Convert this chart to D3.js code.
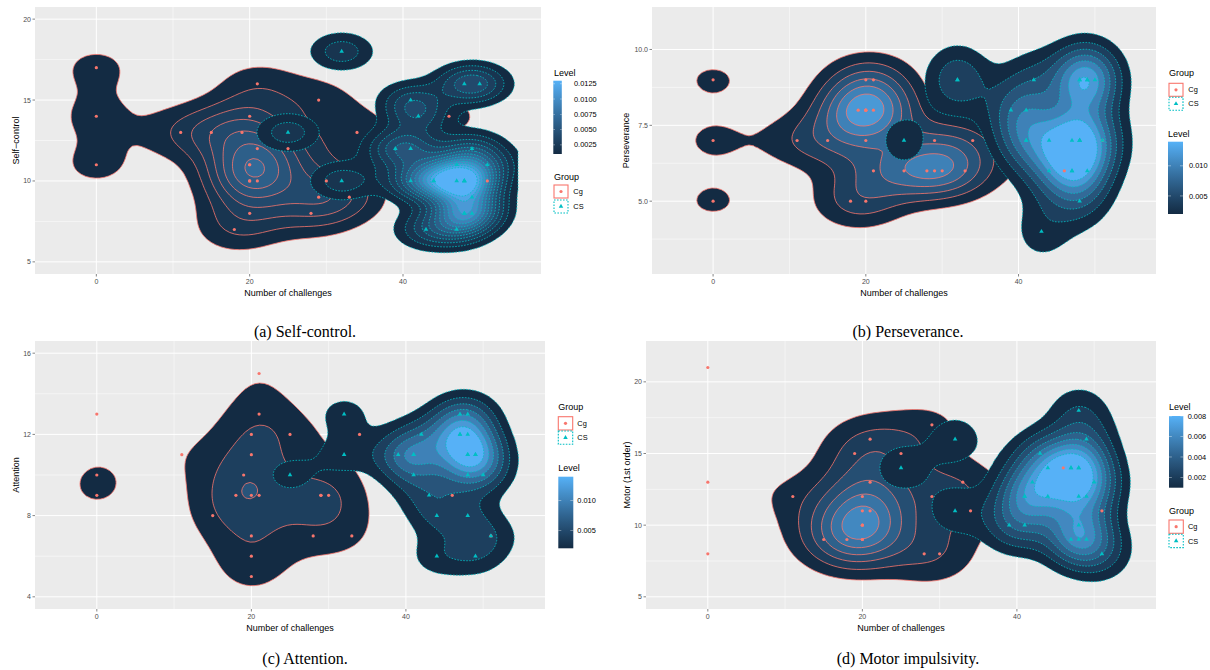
<!DOCTYPE html>
<html><head><meta charset="utf-8">
<script src="https://cdn.jsdelivr.net/npm/d3@7"></script>
<style>body{margin:0;background:#fff}svg{display:block}</style>
</head><body><svg id="c" width="1210" height="670"></svg>
<script>
// ---------------- data (overlapping participants repeated) ----------------
const groupNames = ["Cg", "CS"];
const xTicks = [0, 20, 40];
const xMinor = [10, 30, 50];
const xLims = [-5, 55];

// (a) Self-control
const selfControlCg = [[0,17],[0,14],[0,11],[11,13],[15,13],[19,13],[20,14],[21,16],[21,12],[20,11],[20,11],[20,10],[20,10],[21,10],[20,8],[18,7],[25,12],[29,15],[34,13],[30,10],[29,9],[33,9],[28,8],[46,14],[51,10]];
const selfControlCs = [[25,13],[32,18],[32,10],[41,15],[42,14],[48,16],[50,16],[39,12],[41,12],[49,12],[47,11],[51,11],[41,10],[44,10],[44,10],[47,10],[48,10],[48,10],[48,10],[49,9],[48,8],[48,8],[49,8],[43,7],[47,7]];
const selfControlYTicks = [5, 10, 15, 20];
const selfControlYMinor = [7.5, 12.5, 17.5];
const selfControlLevels = [0.001,0.002,0.003,0.004,0.005,0.006,0.007,0.008,0.009,0.010,0.011,0.012,0.013];
const selfControlLegendTicks = [0.0025, 0.0050, 0.0075, 0.0100, 0.0125];

// (b) Perseverance
const perseveranceCg = [[0,9],[0,7],[0,5],[11,7],[15,7],[20,7],[20,9],[21,9],[19,8],[20,8],[20,8],[20,8],[21,8],[21,6],[18,5],[20,5],[25,6],[28,6],[29,6],[30,6],[33,6],[29,7],[34,7],[46,6],[51,7]];
const perseveranceCs = [[25,7],[32,9],[32,9],[42,9],[48,9],[48,9],[49,9],[49,9],[50,9],[39,8],[41,8],[41,7],[41,7],[44,7],[47,7],[48,7],[48,7],[51,7],[44,6],[47,6],[47,6],[49,6],[48,5],[48,7],[43,4]];
const perseveranceYTicks = [5, 7.5, 10];
const perseveranceYMinor = [3.75, 6.25, 8.75];
const perseveranceLevels = [0.002,0.004,0.006,0.008,0.010,0.012,0.014];
const perseveranceLegendTicks = [0.005, 0.010];

// (c) Attention
const attentionCg = [[0,13],[0,10],[0,9],[11,11],[21,15],[21,13],[20,12],[25,12],[20,11],[19,10],[18,9],[20,9],[21,9],[15,8],[20,7],[20,6],[20,5],[34,12],[29,9],[29,9],[30,9],[28,7],[33,7],[46,9],[51,7]];
const attentionCs = [[32,13],[32,11],[25,10],[42,12],[47,13],[48,13],[47,12],[47,12],[48,12],[39,11],[41,11],[41,11],[48,11],[48,11],[49,11],[49,11],[41,10],[48,10],[50,10],[43,9],[44,8],[48,8],[51,7],[44,6],[49,6]];
const attentionYTicks = [4, 8, 12, 16];
const attentionYMinor = [6, 10, 14];
const attentionLevels = [0.002,0.004,0.006,0.008,0.010,0.012,0.014];
const attentionLegendTicks = [0.005, 0.010];

// (d) Motor impulsivity
const motorCg = [[0,21],[0,13],[0,8],[11,12],[15,9],[18,9],[20,9],[20,9],[20,10],[20,10],[20,11],[21,11],[20,12],[21,13],[19,15],[21,16],[25,15],[29,17],[33,13],[29,12],[34,11],[28,8],[30,8],[46,14],[51,11]];
const motorCs = [[25,14],[32,16],[32,11],[48,18],[49,16],[43,15],[44,14],[47,14],[47,14],[48,14],[48,14],[42,13],[50,13],[41,12],[41,12],[44,12],[48,12],[49,12],[39,10],[41,10],[48,10],[47,9],[48,9],[49,9],[51,8]];
const motorYTicks = [5, 10, 15, 20];
const motorYMinor = [7.5, 12.5, 17.5];
const motorLevels = [0.001,0.002,0.003,0.004,0.005,0.006,0.007,0.008];
const motorLegendTicks = [0.002, 0.004, 0.006, 0.008];

// ---------------- layout ----------------
const groupColor = {Cg: "#F8766D", CS: "#00BFC4"};
const lowCol = "#132B43", highCol = "#56B1F7";

const panels = [
  {cg: selfControlCg, cs: selfControlCs, yLims: [5,20], yTicks: selfControlYTicks, yMinor: selfControlYMinor,
   yFmt: d3.format("d"), levels: selfControlLevels, legendTicks: selfControlLegendTicks, legendFmt: d3.format(".4f"),
   yTitle: "Self\u2212control", box: {x0:35, x1:541, y0:7, y1:274}, yTitleX: 18.5,
   caption: "(a) Self-control.", capX: 305, capY: 337,
   level: {tx:554, ty:76, bx:553.3, by0:80.7, by1:154, bw:8.5, lx:574},
   group: {tx:554, ty:180, bx:554, by:[185,200], bw:14, bh:13, lx:573.3}},
  {cg: perseveranceCg, cs: perseveranceCs, yLims: [3,11], yTicks: perseveranceYTicks, yMinor: perseveranceYMinor,
   yFmt: d3.format(".1f"), levels: perseveranceLevels, legendTicks: perseveranceLegendTicks, legendFmt: d3.format(".3f"),
   yTitle: "Perseverance", box: {x0:652, x1:1156, y0:7, y1:274}, yTitleX: 629,
   caption: "(b) Perseverance.", capX: 908, capY: 337,
   level: {tx:1168, ty:137, bx:1168, by0:141.7, by1:214, bw:15, lx:1189},
   group: {tx:1169, ty:76, bx:1169, by:[83.3,97.3], bw:14, bh:13, lx:1188.3}},
  {cg: attentionCg, cs: attentionCs, yLims: [4,16], yTicks: attentionYTicks, yMinor: attentionYMinor,
   yFmt: d3.format("d"), levels: attentionLevels, legendTicks: attentionLegendTicks, legendFmt: d3.format(".3f"),
   yTitle: "Attention", box: {x0:35, x1:545, y0:341, y1:609}, yTitleX: 18.5,
   caption: "(c) Attention.", capX: 305, capY: 664,
   level: {tx:558.3, ty:471, bx:558.3, by0:476.7, by1:548.3, bw:15, lx:577.3},
   group: {tx:558.3, ty:410, bx:558.3, by:[416.7,431], bw:14.4, bh:13.3, lx:577.3}},
  {cg: motorCg, cs: motorCs, yLims: [5,22], yTicks: motorYTicks, yMinor: motorYMinor,
   yFmt: d3.format("d"), levels: motorLevels, legendTicks: motorLegendTicks, legendFmt: d3.format(".3f"),
   yTitle: "Motor (1st order)", box: {x0:646, x1:1156, y0:341, y1:609}, yTitleX: 629.5,
   caption: "(d) Motor impulsivity.", capX: 908, capY: 664,
   level: {tx:1169, ty:410, bx:1169, by0:416, by1:487.7, bw:14.3, lx:1187.7},
   group: {tx:1169, ty:514, bx:1169, by:[520,534.3], bw:14.3, bh:13.3, lx:1188}}
];

// ---------------- KDE (MASS::kde2d with bandwidth.nrd) ----------------
function q7(s, p) { const h = (s.length - 1) * p, lo = Math.floor(h), hi = Math.ceil(h); return s[lo] + (h - lo) * (s[hi] - s[lo]); }
function bwNrd(v) {
  const s = v.slice().sort((a, b) => a - b);
  const iqr = (q7(s, 0.75) - q7(s, 0.25)) / 1.34;
  const sd = d3.deviation(v);
  return 4 * 1.06 * Math.min(sd, iqr) * Math.pow(v.length, -0.2);
}
const NG = 100;
function kde(pts, xl, yl) {
  const xs = pts.map(p => p[0]), ys = pts.map(p => p[1]);
  const hx = bwNrd(xs) / 4, hy = bwNrd(ys) / 4, n = pts.length;
  const sx = (xl[1] - xl[0]) / (NG - 1), sy = (yl[1] - yl[0]) / (NG - 1);
  const vals = new Float64Array(NG * NG);
  const c = 1 / (2 * Math.PI * n * hx * hy);
  for (let j = 0; j < NG; j++) {
    const gy = yl[0] + j * sy;
    for (let i = 0; i < NG; i++) {
      const gx = xl[0] + i * sx;
      let s = 0;
      for (let k = 0; k < n; k++) {
        const u = (gx - xs[k]) / hx, w = (gy - ys[k]) / hy;
        s += Math.exp(-0.5 * (u * u + w * w));
      }
      vals[j * NG + i] = s * c;
    }
  }
  return {vals, sx, sy};
}

const svg = d3.select("#c");
const col = d3.interpolateLab(lowCol, highCol);
let clipId = 0;

panels.forEach(P => {
  const b = P.box;
  const xr = xLims[1] - xLims[0], yr = P.yLims[1] - P.yLims[0];
  const x = d3.scaleLinear().domain([xLims[0] - 0.05 * xr, xLims[1] + 0.05 * xr]).range([b.x0, b.x1]);
  const y = d3.scaleLinear().domain([P.yLims[0] - 0.05 * yr, P.yLims[1] + 0.05 * yr]).range([b.y1, b.y0]);
  const g = svg.append("g");
  const cid = "clip" + (clipId++);
  g.append("clipPath").attr("id", cid).append("rect").attr("x", b.x0).attr("y", b.y0).attr("width", b.x1 - b.x0).attr("height", b.y1 - b.y0);
  g.append("rect").attr("x", b.x0).attr("y", b.y0).attr("width", b.x1 - b.x0).attr("height", b.y1 - b.y0).attr("fill", "#EBEBEB");
  const grid = g.append("g").attr("stroke", "#fff");
  xMinor.forEach(v => grid.append("line").attr("x1", x(v)).attr("x2", x(v)).attr("y1", b.y0).attr("y2", b.y1).attr("stroke-width", 0.5));
  P.yMinor.forEach(v => grid.append("line").attr("y1", y(v)).attr("y2", y(v)).attr("x1", b.x0).attr("x2", b.x1).attr("stroke-width", 0.5));
  xTicks.forEach(v => grid.append("line").attr("x1", x(v)).attr("x2", x(v)).attr("y1", b.y0).attr("y2", b.y1).attr("stroke-width", 1));
  P.yTicks.forEach(v => grid.append("line").attr("y1", y(v)).attr("y2", y(v)).attr("x1", b.x0).attr("x2", b.x1).attr("stroke-width", 1));

  const dens = [P.cg, P.cs].map(pts => kde(pts, xLims, P.yLims));
  const contourGen = d3.contours().size([NG, NG]).thresholds(P.levels);
  const conts = dens.map(d => contourGen(d.vals).map(cn => ({value: cn.value, coords: cn.coordinates, sx: d.sx, sy: d.sy})));
  const lvDomain = d3.extent(P.levels);
  const fillScale = v => col((v - lvDomain[0]) / (lvDomain[1] - lvDomain[0]));

  const plot = g.append("g").attr("clip-path", `url(#${cid})`);
  conts.forEach((cs, gi) => {
    const name = groupNames[gi];
    cs.forEach(cn => {
      cn.coords.forEach(poly => poly.forEach(ring => {
        const dd = "M" + ring.map(p => {
          const dx = Math.max(xLims[0], Math.min(xLims[1], xLims[0] + (p[0] - 0.5) * cn.sx));
          const dy = Math.max(P.yLims[0], Math.min(P.yLims[1], P.yLims[0] + (p[1] - 0.5) * cn.sy));
          return x(dx).toFixed(2) + "," + y(dy).toFixed(2);
        }).join("L") + "Z";
        plot.append("path").attr("d", dd).attr("fill", fillScale(cn.value))
          .attr("stroke", groupColor[name]).attr("stroke-width", 0.8)
          .attr("stroke-dasharray", name === "CS" ? "1.6,1.4" : null);
      }));
    });
  });
  plot.selectAll(null).data(P.cg).join("circle").attr("cx", d => x(d[0])).attr("cy", d => y(d[1])).attr("r", 1.6).attr("fill", groupColor.Cg);
  const tri = d3.symbol().type(d3.symbolTriangle).size(9);
  plot.selectAll(null).data(P.cs).join("path").attr("d", tri).attr("transform", d => `translate(${x(d[0])},${y(d[1])})`).attr("fill", groupColor.CS);

  const ax = g.append("g");
  xTicks.forEach(v => {
    ax.append("line").attr("x1", x(v)).attr("x2", x(v)).attr("y1", b.y1).attr("y2", b.y1 + 2.5).attr("stroke", "#333").attr("stroke-width", 0.6);
    ax.append("text").attr("x", x(v)).attr("y", b.y1 + 9.5).attr("text-anchor", "middle").attr("font-size", 7).attr("fill", "#4D4D4D").text(v);
  });
  P.yTicks.forEach(v => {
    ax.append("line").attr("x1", b.x0 - 2.5).attr("x2", b.x0).attr("y1", y(v)).attr("y2", y(v)).attr("stroke", "#333").attr("stroke-width", 0.6);
    ax.append("text").attr("x", b.x0 - 4).attr("y", y(v) + 2.5).attr("text-anchor", "end").attr("font-size", 7).attr("fill", "#4D4D4D").text(P.yFmt(v));
  });
  ax.append("text").attr("x", (b.x0 + b.x1) / 2).attr("y", b.y1 + 21.5).attr("text-anchor", "middle").attr("font-size", 9).attr("fill", "#000").text("Number of challenges");
  ax.append("text").attr("transform", `translate(${P.yTitleX},${(b.y0 + b.y1) / 2}) rotate(-90)`).attr("text-anchor", "middle").attr("font-size", 9).attr("fill", "#000").text(P.yTitle);

  g.append("text").attr("x", P.capX).attr("y", P.capY).attr("text-anchor", "middle").attr("font-family", "'Liberation Serif', serif").attr("font-size", 16).attr("fill", "#000").text(P.caption);

  const L = P.level;
  const gid = "grad" + clipId;
  const grad = g.append("linearGradient").attr("id", gid).attr("x1", 0).attr("y1", 1).attr("x2", 0).attr("y2", 0);
  d3.range(0, 1.0001, 0.05).forEach(t => grad.append("stop").attr("offset", t).attr("stop-color", col(t)));
  g.append("text").attr("x", L.tx).attr("y", L.ty).attr("font-size", 9).attr("fill", "#000").text("Level");
  g.append("rect").attr("x", L.bx).attr("y", L.by0).attr("width", L.bw).attr("height", L.by1 - L.by0).attr("fill", `url(#${gid})`);
  const ly = d3.scaleLinear().domain(lvDomain).range([L.by1, L.by0]);
  P.legendTicks.forEach(v => {
    const yy = ly(v);
    g.append("line").attr("x1", L.bx).attr("x2", L.bx + L.bw / 5).attr("y1", yy).attr("y2", yy).attr("stroke", "#fff").attr("stroke-width", 0.5).attr("opacity", 0.8);
    g.append("line").attr("x1", L.bx + L.bw * 4 / 5).attr("x2", L.bx + L.bw).attr("y1", yy).attr("y2", yy).attr("stroke", "#fff").attr("stroke-width", 0.5).attr("opacity", 0.8);
    g.append("text").attr("x", L.lx).attr("y", yy + 2.6).attr("font-size", 7.4).attr("fill", "#000").text(P.legendFmt(v));
  });

  const G = P.group;
  g.append("text").attr("x", G.tx).attr("y", G.ty).attr("font-size", 9).attr("fill", "#000").text("Group");
  groupNames.forEach((name, i) => {
    const by = G.by[i];
    g.append("rect").attr("x", G.bx).attr("y", by).attr("width", G.bw).attr("height", G.bh).attr("fill", "#fff")
      .attr("stroke", groupColor[name]).attr("stroke-width", 1.1).attr("stroke-dasharray", name === "CS" ? "1.6,1.4" : null);
    const cx = G.bx + G.bw / 2, cy = by + G.bh / 2;
    if (name === "Cg") g.append("circle").attr("cx", cx).attr("cy", cy).attr("r", 1.6).attr("fill", groupColor.Cg);
    else g.append("path").attr("d", tri).attr("transform", `translate(${cx},${cy})`).attr("fill", groupColor.CS);
    g.append("text").attr("x", G.lx).attr("y", cy + 2.6).attr("font-size", 7.4).attr("fill", "#000").text(name);
  });
});
svg.selectAll("text").filter(function(){ return !this.getAttribute("font-family"); }).attr("font-family", "'Liberation Sans', Arial, sans-serif");
</script>
</body></html>
